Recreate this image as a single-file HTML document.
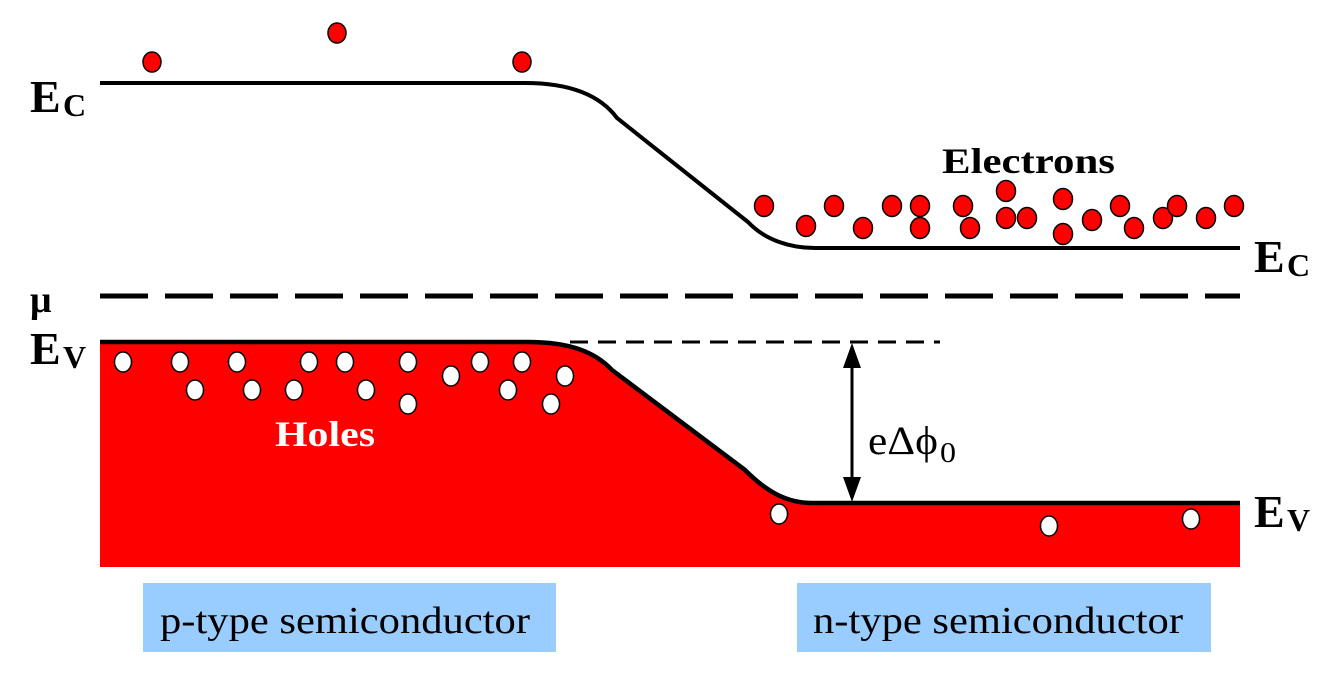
<!DOCTYPE html>
<html><head><meta charset="utf-8"><style>
html,body{margin:0;padding:0;background:#fff;}
svg{display:block;}
</style></head><body>
<svg width="1334" height="680" viewBox="0 0 1334 680" xmlns="http://www.w3.org/2000/svg" font-family="Liberation Serif, serif">
<path d="M100,342 L528,342 C570,342 595,352 612,370 L745,470 C765,490 785,503 812,503 L1240,503 L1240,567 L100,567 Z" fill="#ff0000"/>
<path d="M100,83 L525,83 C570,83 600,95 617,118 L748,222 C765,240 790,248 815,248 L1240,248" fill="none" stroke="#000" stroke-width="4"/>
<path d="M100,342 L528,342 C570,342 595,352 612,370 L745,470 C765,490 785,503 812,503 L1240,503" fill="none" stroke="#000" stroke-width="4.5"/>
<line x1="100" y1="296" x2="1240" y2="296" stroke="#000" stroke-width="5" stroke-dasharray="48,17"/>
<line x1="570" y1="342" x2="940" y2="342" stroke="#000" stroke-width="3" stroke-dasharray="18,10"/>
<line x1="852" y1="365" x2="852" y2="480" stroke="#000" stroke-width="3"/>
<polygon points="852,343 843,368 861,368" fill="#000"/>
<polygon points="852,502 843,477 861,477" fill="#000"/>
<text x="868" y="454" font-size="40" textLength="70" lengthAdjust="spacingAndGlyphs">eΔϕ</text><text x="940" y="462" font-size="28" textLength="16" lengthAdjust="spacingAndGlyphs">0</text>
<g fill="#ff0000" stroke="#000" stroke-width="1.5">
<ellipse cx="152" cy="62" rx="9" ry="10"/><ellipse cx="337" cy="33" rx="9" ry="10"/><ellipse cx="522" cy="62" rx="9" ry="10"/>
<ellipse cx="764" cy="206" rx="9.5" ry="10.5"/><ellipse cx="806" cy="226" rx="9.5" ry="10.5"/><ellipse cx="834" cy="206" rx="9.5" ry="10.5"/><ellipse cx="863" cy="228" rx="9.5" ry="10.5"/><ellipse cx="892" cy="206" rx="9.5" ry="10.5"/><ellipse cx="920" cy="206" rx="9.5" ry="10.5"/><ellipse cx="920" cy="228" rx="9.5" ry="10.5"/><ellipse cx="963" cy="206" rx="9.5" ry="10.5"/><ellipse cx="970" cy="228" rx="9.5" ry="10.5"/><ellipse cx="1006" cy="191" rx="9.5" ry="10.5"/><ellipse cx="1006" cy="218" rx="9.5" ry="10.5"/><ellipse cx="1027" cy="218" rx="9.5" ry="10.5"/><ellipse cx="1063" cy="199" rx="9.5" ry="10.5"/><ellipse cx="1063" cy="234" rx="9.5" ry="10.5"/><ellipse cx="1092" cy="220" rx="9.5" ry="10.5"/><ellipse cx="1120" cy="206" rx="9.5" ry="10.5"/><ellipse cx="1134" cy="228" rx="9.5" ry="10.5"/><ellipse cx="1163" cy="218" rx="9.5" ry="10.5"/><ellipse cx="1177" cy="206" rx="9.5" ry="10.5"/><ellipse cx="1206" cy="218" rx="9.5" ry="10.5"/><ellipse cx="1234" cy="206" rx="9.5" ry="10.5"/>
</g>
<g fill="#fff" stroke="#000" stroke-width="1.5">
<ellipse cx="123" cy="362" rx="8.5" ry="10"/><ellipse cx="180" cy="362" rx="8.5" ry="10"/><ellipse cx="237" cy="362" rx="8.5" ry="10"/><ellipse cx="309" cy="362" rx="8.5" ry="10"/><ellipse cx="345" cy="362" rx="8.5" ry="10"/><ellipse cx="408" cy="362" rx="8.5" ry="10"/><ellipse cx="480" cy="362" rx="8.5" ry="10"/><ellipse cx="522" cy="362" rx="8.5" ry="10"/><ellipse cx="195" cy="390" rx="8.5" ry="10"/><ellipse cx="252" cy="390" rx="8.5" ry="10"/><ellipse cx="294" cy="390" rx="8.5" ry="10"/><ellipse cx="366" cy="390" rx="8.5" ry="10"/><ellipse cx="451" cy="376" rx="8.5" ry="10"/><ellipse cx="508" cy="390" rx="8.5" ry="10"/><ellipse cx="565" cy="376" rx="8.5" ry="10"/><ellipse cx="408" cy="404" rx="8.5" ry="10"/><ellipse cx="551" cy="404" rx="8.5" ry="10"/>
<ellipse cx="779" cy="514" rx="8.5" ry="10"/><ellipse cx="1049" cy="526" rx="8.5" ry="10"/><ellipse cx="1191" cy="519" rx="8.5" ry="10"/>
</g>
<text x="275" y="446" font-size="36" font-weight="bold" fill="#fff" textLength="100" lengthAdjust="spacingAndGlyphs">Holes</text>
<text x="942" y="173" font-size="36" font-weight="bold" textLength="173" lengthAdjust="spacingAndGlyphs">Electrons</text>
<g font-weight="bold" font-size="46">
<text x="30" y="112">E</text><text x="63" y="116" font-size="32">C</text>
<text x="30" y="312" font-size="38">μ</text>
<text x="30" y="364">E</text><text x="63" y="368" font-size="32">V</text>
<text x="1254" y="272">E</text><text x="1287" y="276" font-size="32">C</text>
<text x="1254" y="527">E</text><text x="1287" y="531" font-size="32">V</text>
</g>
<rect x="143" y="583" width="413" height="69" fill="#99ccff"/>
<rect x="797" y="583" width="414" height="69" fill="#99ccff"/>
<text x="160" y="633" font-size="38" textLength="370" lengthAdjust="spacingAndGlyphs">p-type semiconductor</text>
<text x="813" y="633" font-size="38" textLength="370" lengthAdjust="spacingAndGlyphs">n-type semiconductor</text>
</svg>
</body></html>
